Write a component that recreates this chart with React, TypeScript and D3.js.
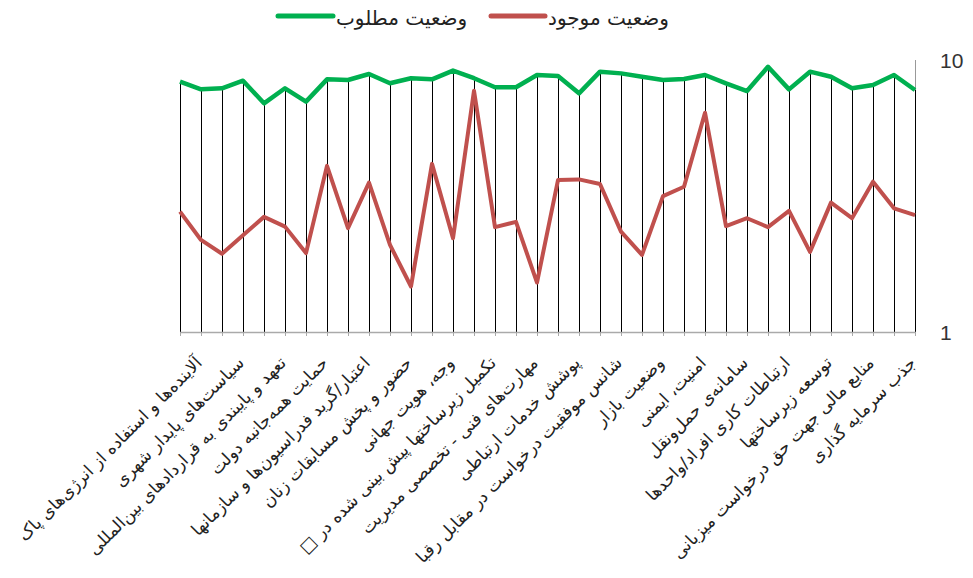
import React from "react";
import * as d3 from "d3";

const labels = [
  "آلاینده‌ها و استفاده از انرژی‌های پاک",
  "سیاست‌های پایدار شهری",
  "تعهد و پایبندی به قراردادهای بین‌المللی",
  "حمایت همه‌جانبه دولت",
  "اعتبار/گرید فدراسیون‌ها و سازمانها",
  "حضور و پخش مسابقات زنان",
  "وجه، هویت جهانی",
  "تکمیل زیرساختها پیش بینی شده در □\u200F",
  "مهارت‌های  فنی - تخصصی مدیریت",
  "پوشش  خدمات ارتباطی",
  "شانس موفقیت درخواست در مقابل رقبا",
  "وضعیت بازار",
  "امنیت، ایمنی",
  "سامانه‌ی حمل‌ونقل",
  "ارتباطات کاری  افراد/واحدها",
  "توسعه زیرساختها",
  "منابع  مالی جهت حق درخواست میزبانی",
  "جذب سرمایه گذاری",
];

// 36 categories; only every other one carries a visible label
const categories: string[] = Array.from({ length: 36 }, (_, i) => (i % 2 === 1 ? labels[(i - 1) / 2] : ""));

const desired = [
  8.32, 7.8, 7.87, 8.39, 6.93, 7.87, 7.03, 8.49, 8.44, 8.88, 8.21, 8.57,
  8.49, 9.14, 8.57, 7.94, 7.94, 8.81, 8.73, 7.54, 9.06, 8.93, 8.68, 8.44,
  8.51, 8.81, 8.21, 7.69, 9.44, 7.8, 9.06, 8.68, 7.87, 8.09, 8.81, 7.76,
];

const current = [
  2.77, 2.18, 1.94, 2.27, 2.65, 2.44, 1.95, 4.08, 2.41, 3.54, 2.09, 1.47,
  4.15, 2.21, 7.71, 2.43, 2.54, 1.52, 3.62, 3.64, 3.5, 2.34, 1.92, 3.16,
  3.42, 6.4, 2.45, 2.62, 2.43, 2.79, 1.97, 2.99, 2.62, 3.57, 2.85, 2.69,
];

const yTicks = [1, 10];

const seriesNames = ["وضعیت موجود", "وضعیت مطلوب"];
const GREEN = "#00B050";
const RED = "#C0504D";
const FONT = "'DejaVu Sans', sans-serif";

export default function App() {
  const left = 180;
  const right = 915;
  const top = 60;
  const bottom = 332;

  const x = d3
    .scalePoint<number>()
    .domain(categories.map((_, i) => i))
    .range([left, right]);
  const y = d3.scaleLog().domain([1, 10]).range([bottom, top]);
  const px = (i: number) => Math.round(x(i) as number) + 0.5;

  const line = d3
    .line<number>()
    .x((_, i) => x(i) as number)
    .y((d) => y(d));

  return (
    <svg
      width={973}
      height={578}
      style={{ position: "absolute", left: 0, top: 0, background: "#fff" }}
      fontFamily={FONT}
    >
      {/* legend */}
      <g>
        <line x1={491} x2={545} y1={16} y2={16} stroke={RED} strokeWidth={5} strokeLinecap="round" />
        <text x={548} y={25} fontSize={20} fill="#222">{seriesNames[0]}</text>
        <line x1={278} x2={333} y1={16} y2={16} stroke={GREEN} strokeWidth={5} strokeLinecap="round" />
        <text x={336} y={25} fontSize={20} fill="#222">{seriesNames[1]}</text>
      </g>

      {/* value axis line (right) */}
      <line x1={right + 0.5} x2={right + 0.5} y1={top} y2={bottom} stroke="#999" strokeWidth={1} />
      {yTicks.map((t) => (
        <text key={t} x={940} y={y(t) + 8} fontSize={21} fill="#333" fontFamily="'Liberation Sans', Arial, sans-serif">
          {t}
        </text>
      ))}

      {/* drop lines */}
      {categories.map((_, i) => (
        <line
          key={"d" + i}
          x1={px(i)}
          x2={px(i)}
          y1={y(Math.max(desired[i], current[i]))}
          y2={bottom}
          stroke="#000"
          strokeWidth={1}
        />
      ))}

      {/* category axis */}
      <line x1={left} x2={right + 1} y1={bottom + 0.5} y2={bottom + 0.5} stroke="#aaa" strokeWidth={1.5} />
      {categories.map((_, i) => (
        <line key={"t" + i} x1={px(i)} x2={px(i)} y1={bottom} y2={bottom + 4} stroke="#aaa" strokeWidth={1} />
      ))}

      {/* series */}
      <path d={line(current) || ""} fill="none" stroke={RED} strokeWidth={4} strokeLinejoin="round" />
      <path d={line(desired) || ""} fill="none" stroke={GREEN} strokeWidth={4.5} strokeLinejoin="round" />

      {/* category labels */}
      {categories.map((c, i) =>
        c ? (
          <text
            key={"l" + i}
            transform={`translate(${(x(i) as number) + 2},${bottom + 32}) rotate(-45)`}
            textAnchor="end"
            fontSize={17}
            fill="#222"
          >
            {c}
          </text>
        ) : null
      )}
    </svg>
  );
}
